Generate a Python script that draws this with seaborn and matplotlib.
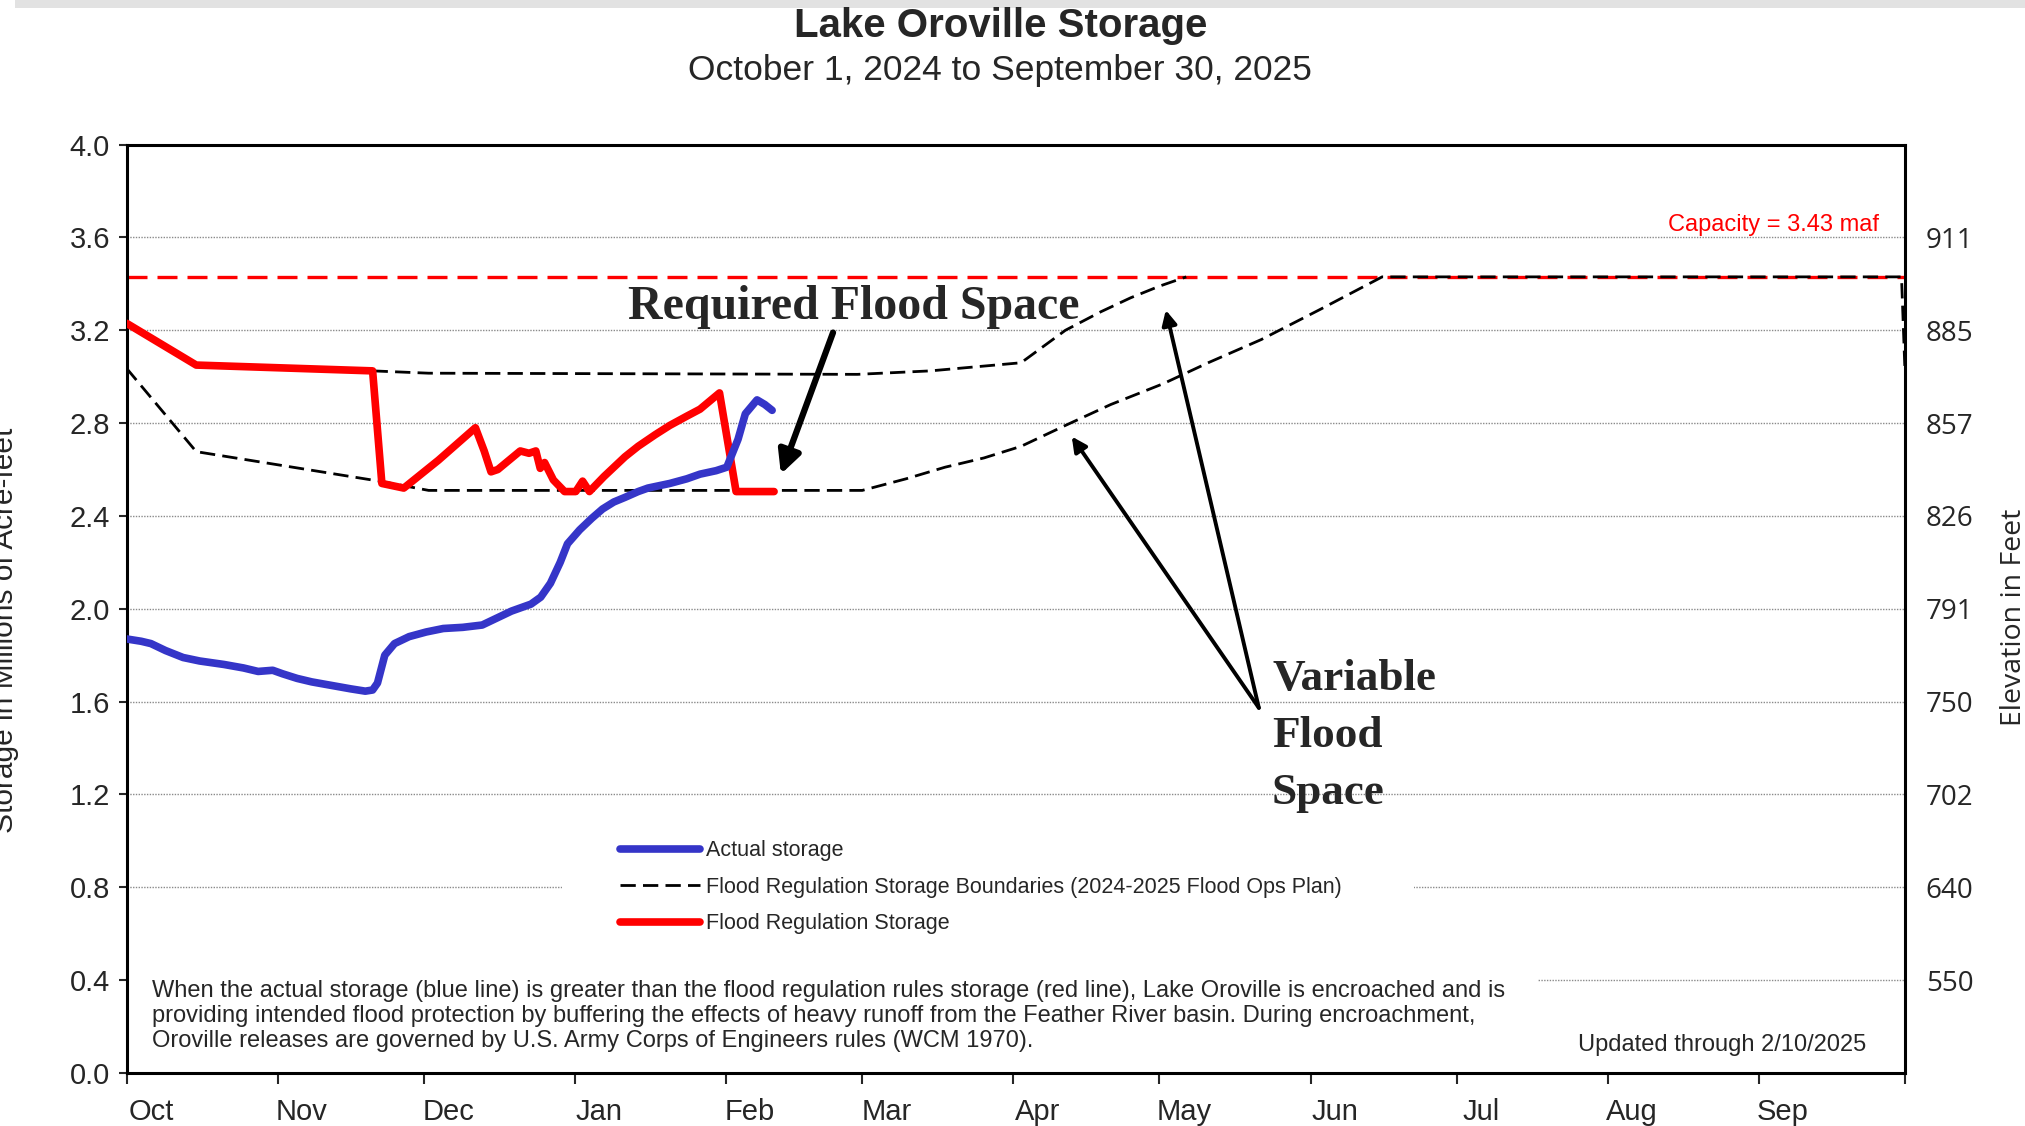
import pandas as pd
import matplotlib
matplotlib.use("Agg")
import matplotlib.pyplot as plt
import matplotlib.dates as mdates
from matplotlib.patches import Rectangle
import seaborn as sns

START = pd.Timestamp("2024-10-01")

# x values are days since Oct 1, 2024; storage in millions of acre-feet
actual_days = [0, 3, 5, 8, 11.6, 15, 20, 24, 27, 30, 32, 35, 38, 42, 46, 49, 50.5,
               51.5, 53, 55, 58, 61.5, 65, 69, 73, 76, 79, 83, 85, 87, 89, 90.5,
               93, 95.5, 97.7, 100, 102.3, 105, 107, 111.5, 115, 117.7, 121, 123.2,
               125.5, 127, 129.4, 131, 132.5]
actual_maf = [1.87, 1.86, 1.85, 1.82, 1.79, 1.775, 1.76, 1.745, 1.73, 1.735, 1.72,
              1.70, 1.685, 1.67, 1.655, 1.645, 1.65, 1.68, 1.80, 1.85, 1.88, 1.90,
              1.915, 1.92, 1.93, 1.96, 1.99, 2.02, 2.05, 2.11, 2.20, 2.28, 2.34,
              2.39, 2.43, 2.46, 2.48, 2.505, 2.52, 2.54, 2.56, 2.58, 2.595, 2.61,
              2.73, 2.84, 2.90, 2.88, 2.855]

flood_reg_days = [0, 14.3, 50.5, 52.4, 56.9, 64, 71.6, 73.4, 74.8, 76.2, 78.5, 80.8,
                  82.6, 84.0, 84.9, 85.8, 87.6, 89.9, 92.2, 93.6, 95.0, 98, 102.3,
                  105, 108.5, 111.5, 115, 117.7, 121.7, 125.1, 132.9]
flood_reg_maf = [3.23, 3.05, 3.025, 2.54, 2.52, 2.64, 2.78, 2.68, 2.59, 2.60, 2.64,
                 2.68, 2.67, 2.68, 2.605, 2.63, 2.555, 2.505, 2.505, 2.55, 2.505,
                 2.57, 2.655, 2.70, 2.75, 2.79, 2.83, 2.86, 2.93, 2.505, 2.505]

lower_bound_days = [0, 14.3, 52.4, 62, 151, 160, 168, 176, 183.6, 192.7, 202, 212.8,
                    222, 232.9, 245, 257.7, 364.3, 365]
lower_bound_maf = [3.036, 2.677, 2.548, 2.51, 2.51, 2.56, 2.61, 2.65, 2.70, 2.79,
                   2.88, 2.97, 3.06, 3.16, 3.29, 3.43, 3.43, 3.03]

upper_bound_days = [50.5, 62, 150, 165, 183.6, 192.7, 200, 206.1, 212, 217.5]
upper_bound_maf = [3.025, 3.015, 3.01, 3.025, 3.06, 3.2, 3.28, 3.34, 3.39, 3.43]

capacity_maf = 3.43

storage_ticks = [0.0, 0.4, 0.8, 1.2, 1.6, 2.0, 2.4, 2.8, 3.2, 3.6, 4.0]
elevation_ticks = [0.4, 0.8, 1.2, 1.6, 2.0, 2.4, 2.8, 3.2, 3.6]
elevation_labels = ["550", "640", "702", "750", "791", "826", "857", "885", "911"]


def to_dates(days):
    return START + pd.to_timedelta(days, unit="D")


def main():
    sns.set_style("white")
    plt.rcParams["font.family"] = ["Liberation Sans", "DejaVu Sans"]

    fig = plt.figure(figsize=(20.25, 11.26), dpi=100)
    ax = fig.add_axes([0.0625, 0.0471, 0.8782, 0.8245])

    # thin gray strip at the very top of the screenshot
    fig.patches.append(Rectangle((0.0075, 0.993), 0.9925, 0.007, transform=fig.transFigure,
                                 facecolor="#e2e2e2", edgecolor="none"))

    dash = (0, (5.5, 2.6))
    ax.axhline(capacity_maf, color="#ff0000", lw=2.4, linestyle=(0, (6, 3)), zorder=2)

    sns.lineplot(x=to_dates(upper_bound_days), y=upper_bound_maf, ax=ax, color="black",
                 lw=2.0, linestyle=dash, estimator=None, sort=False, zorder=3)
    sns.lineplot(x=to_dates(lower_bound_days), y=lower_bound_maf, ax=ax, color="black",
                 lw=2.0, linestyle=dash, estimator=None, sort=False, zorder=3,
                 label="Flood Regulation Storage Boundaries (2024-2025 Flood Ops Plan)")
    sns.lineplot(x=to_dates(flood_reg_days), y=flood_reg_maf, ax=ax, color="#ff0000",
                 lw=5.5, estimator=None, sort=False, zorder=4,
                 label="Flood Regulation Storage")
    sns.lineplot(x=to_dates(actual_days), y=actual_maf, ax=ax, color="#3535c8",
                 lw=5.5, estimator=None, sort=False, zorder=5, label="Actual storage")

    ax.set_xlim(START, START + pd.Timedelta(days=365))
    ax.set_ylim(0, 4.0)
    ax.set_yticks(storage_ticks)
    ax.set_yticklabels([f"{v:.1f}" for v in storage_ticks])
    ax.yaxis.grid(True, color="#8a8a8a", linestyle=(0, (1, 1)), lw=1.0)
    ax.set_axisbelow(True)
    ax.set_xlabel("")
    ax.set_ylabel("")

    ax.xaxis.set_major_locator(mdates.MonthLocator())
    ax.xaxis.set_major_formatter(plt.NullFormatter())
    ax.xaxis.set_minor_locator(mdates.MonthLocator(bymonthday=6))
    ax.xaxis.set_minor_formatter(mdates.DateFormatter("%b"))
    ax.tick_params(axis="x", which="major", direction="out", length=8, width=1.5,
                   bottom=True)
    ax.tick_params(axis="x", which="minor", length=0, pad=18, labelsize=21)
    ax.tick_params(axis="y", direction="out", length=6, width=1.5, left=True,
                   labelsize=21, pad=6)

    for side in ["left", "right", "top", "bottom"]:
        ax.spines[side].set_color("black")
        ax.spines[side].set_linewidth(2.2)

    # right axis with elevation labels
    ax2 = ax.twinx()
    ax2.set_ylim(0, 4.0)
    ax2.set_yticks(elevation_ticks)
    ax2.set_yticklabels(elevation_labels, fontfamily="Open Sans")
    ax2.tick_params(axis="y", length=0, labelsize=20, pad=15)
    ax2.grid(False)
    for side in ["left", "right", "top", "bottom"]:
        ax2.spines[side].set_visible(False)

    fig.text(0.0025, 0.44, "Storage in Millions of Acre-feet", rotation=90,
             ha="center", va="center", fontsize=21.5)
    fig.text(0.9945, 0.452, "Elevation in Feet", rotation=90, ha="center",
             va="center", fontsize=20.5, fontfamily="Open Sans")

    fig.text(0.494, 0.977, "Lake Oroville Storage", ha="center", va="center",
             fontsize=29, fontweight="bold")
    fig.text(0.494, 0.9375, "October 1, 2024 to September 30, 2025", ha="center",
             va="center", fontsize=25.5)

    ax.text(0.9854, 3.655, "Capacity = 3.43 maf", color="#ff0000", ha="right",
            va="center", fontsize=17, transform=ax.get_yaxis_transform())

    # white boxes behind legend and note
    ax.add_patch(Rectangle((0.2448, 0.155), 0.479, 0.12, transform=ax.transAxes,
                           facecolor="white", edgecolor="none", zorder=1))
    ax.add_patch(Rectangle((0.0014, 0.0125), 0.792, 0.112, transform=ax.transAxes,
                           facecolor="white", edgecolor="none", zorder=1))

    handles, labels = ax.get_legend_handles_labels()
    order = [labels.index(l) for l in ["Actual storage",
                                       "Flood Regulation Storage Boundaries (2024-2025 Flood Ops Plan)",
                                       "Flood Regulation Storage"]]
    leg = ax.legend([handles[i] for i in order], [labels[i] for i in order],
                    loc="center left", bbox_to_anchor=(0.2715, 0.200), frameon=False,
                    fontsize=15.5, handlelength=3.7, handletextpad=0.3, labelspacing=0.72,
                    borderpad=0)
    leg.set_zorder(6)

    ax.text(0.0145, 0.100,
            "When the actual storage (blue line) is greater than the flood regulation rules storage (red line), Lake Oroville is encroached and is\n"
            "providing intended flood protection by buffering the effects of heavy runoff from the Feather River basin. During encroachment,\n"
            "Oroville releases are governed by U.S. Army Corps of Engineers rules (WCM 1970).",
            transform=ax.transAxes, ha="left", va="top", fontsize=17, linespacing=1.17,
            zorder=6)
    ax.text(0.978, 0.03, "Updated through 2/10/2025", transform=ax.transAxes,
            ha="right", va="center", fontsize=17, zorder=6)

    # annotations
    serif = ["Liberation Serif", "DejaVu Serif"]
    ax.text(to_dates([149.2])[0], 3.30, "Required Flood Space", ha="center",
            va="center", fontsize=34.5, fontfamily=serif, fontweight="bold", zorder=7)
    ax.annotate("", xy=(to_dates([134.3])[0], 2.58), xytext=(to_dates([145])[0], 3.19),
                arrowprops=dict(arrowstyle="-|>", lw=4.5, color="black",
                                mutation_scale=34, shrinkA=0, shrinkB=0), zorder=7)
    ax.text(to_dates([235.1])[0], 1.45, "Variable\nFlood\nSpace", ha="left",
            va="center", fontsize=32.5, fontfamily=serif, fontweight="bold",
            linespacing=1.55, zorder=7)
    for end_day, end_val in [(194, 2.742), (213.3, 3.287)]:
        ax.annotate("", xy=(to_dates([end_day])[0], end_val),
                    xytext=(to_dates([232.4])[0], 1.573),
                    arrowprops=dict(arrowstyle="-|>", lw=2.8, color="black",
                                    mutation_scale=22, shrinkA=0, shrinkB=0), zorder=7)

    fig.savefig("out.png", dpi=100)


if __name__ == "__main__":
    main()
